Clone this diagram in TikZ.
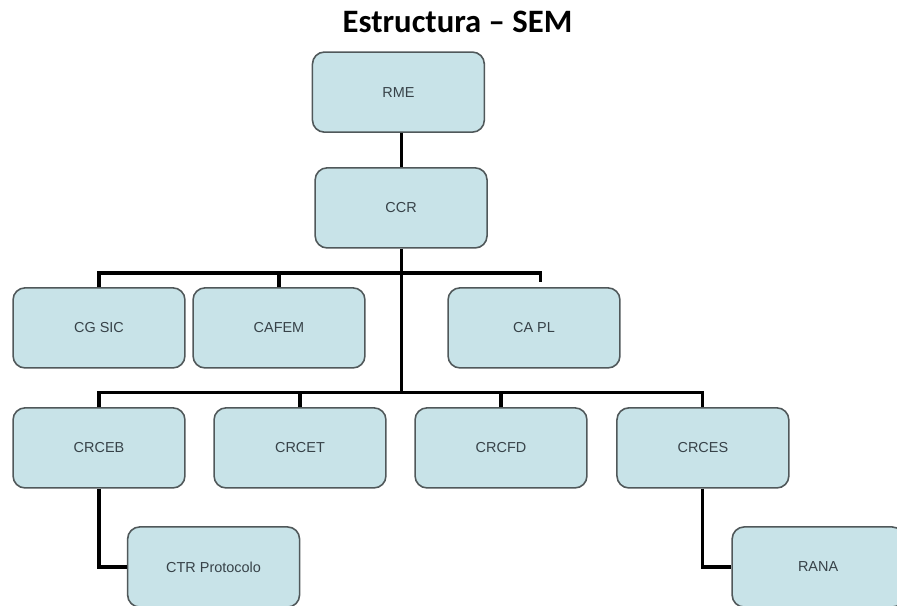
\documentclass[tikz,border=0pt]{standalone}
\usepackage{fontspec}
\setmainfont{Liberation Sans}
\newfontfamily\titlefont{Carlito}
\usepackage{tikz}
\definecolor{boxfill}{RGB}{200,227,232}
\definecolor{boxline}{RGB}{80,88,90}
\definecolor{boxtext}{RGB}{55,66,72}

\begin{document}
\begin{tikzpicture}[
  unit/.style={draw=boxline, line width=1.5pt, fill=boxfill, rounded corners=0.4cm,
    minimum width=5.73cm, minimum height=2.67cm, text=boxtext,
    font=\fontsize{13.7}{16}\selectfont},
  link/.style={line width=3pt, black}]
\useasboundingbox (0,0) rectangle (29.9,-20.167);
\node (title) at (15.25,-1.1) [anchor=base] {\titlefont\fontsize{31}{36}\selectfont\bfseries Estructura – SEM};
\node (rme) at (13.28,-3.07) [unit] {RME};
\node (ccr) at (13.37,-6.93) [unit] {CCR};
\node (cgsic) at (3.3,-10.93) [unit] {CG SIC};
\node (cafem) at (9.3,-10.93) [unit] {CAFEM};
\node (capl) at (17.8,-10.93) [unit] {CA PL};
\node (crceb) at (3.3,-14.93) [unit] {CRCEB};
\node (crcet) at (10.0,-14.93) [unit] {CRCET};
\node (crcfd) at (16.7,-14.93) [unit] {CRCFD};
\node (crces) at (23.43,-14.93) [unit] {CRCES};
\node (ctr) at (7.12,-18.9) [unit] {CTR Protocolo};
\node (rana) at (27.27,-18.9) [unit] {RANA};
\coordinate (busA) at (13.37,-9.1);
\coordinate (busB) at (13.37,-13.07);
\draw [link] (ccr.north |- rme.south) -- (ccr.north);
\draw [link] (ccr.south) -- (busB);
\draw [link] (cgsic.north) |- (busA);
\draw [link] (cafem.north) |- (busA);
\draw [link, shorten <=0.17cm] ([xshift=0.23cm]capl.north) |- (busA);
\foreach \n in {crceb,crcet,crcfd,crces}
  \draw [link] (\n.north) |- (busB);
\draw [link] (crceb.south) |- (ctr.west);
\draw [link] (crces.south) |- (rana.west);
\end{tikzpicture}
\end{document}
